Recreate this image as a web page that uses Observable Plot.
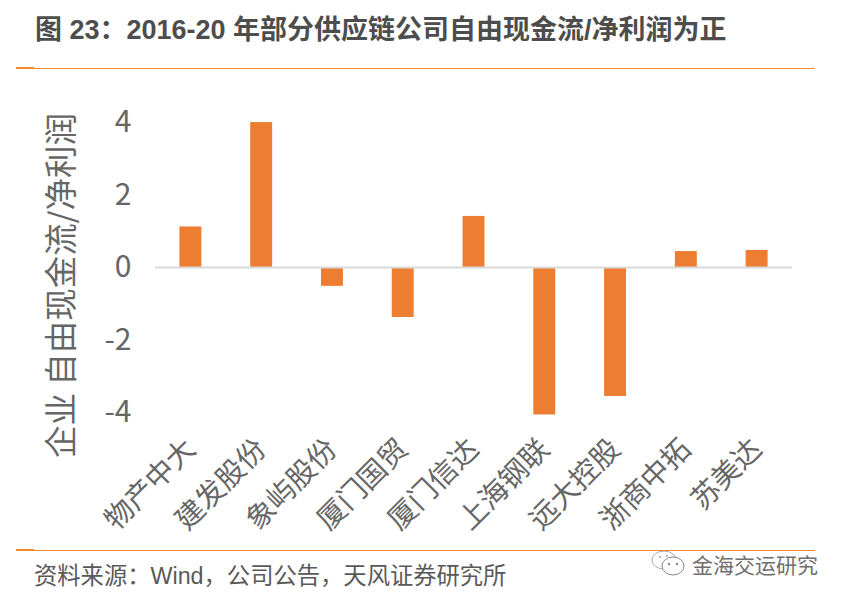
<!DOCTYPE html>
<html lang="zh">
<head>
<meta charset="utf-8">
<script src="https://cdn.jsdelivr.net/npm/d3@7"></script>
<script src="https://cdn.jsdelivr.net/npm/@observablehq/plot@0.6"></script>
<style>
html,body{margin:0;padding:0;background:#fff;width:845px;height:602px;overflow:hidden}
body{position:relative;font-family:"Liberation Sans","Noto Sans CJK SC",sans-serif}
#chart{position:absolute;left:0;top:0}
.t{position:absolute;white-space:nowrap}
.rule{position:absolute;background:#f08a2c}
</style>
</head>
<body>
<div id="chart"></div>
<div class="t" style="left:35px;top:8px;font-size:27px;font-weight:700;color:#4d4d4d">图 23：2016-20 年部分供应链公司自由现金流/净利润为正</div>
<div class="rule" style="left:16px;top:67px;width:18px;height:2px"></div>
<div class="rule" style="left:34px;top:67.5px;width:781px;height:1px"></div>
<div class="rule" style="left:16px;top:549px;width:18px;height:2px"></div>
<div class="rule" style="left:34px;top:550px;width:781px;height:1px"></div>
<div class="t" style="left:34px;top:557px;font-size:23.3px;color:#595959">资料来源：Wind，公司公告，天风证券研究所</div>
<svg class="t" style="left:650px;top:549px" width="40" height="30" viewBox="0 0 40 30"><ellipse cx="14" cy="11" rx="12" ry="9" fill="#fff" stroke="#aaa" stroke-width="1"/><ellipse cx="23" cy="17" rx="11" ry="9" fill="#fff" stroke="#888" stroke-width="1"/><circle cx="19" cy="15" r="1.2" fill="#888"/><circle cx="27" cy="15" r="1.2" fill="#888"/><circle cx="10" cy="8" r="1.1" fill="#aaa"/><circle cx="17" cy="7" r="1.1" fill="#aaa"/></svg>
<div class="t" style="left:692px;top:549px;font-size:21px;color:#6e6e6e">金海交运研究</div>
<script>
const companies = ["物产中大","建发股份","象屿股份","厦门国贸","厦门信达","上海钢联","远大控股","浙商中拓","苏美达"];
const ratios = [1.12,4.0,-0.52,-1.38,1.41,-4.07,-3.56,0.44,0.47];
const yTicks = [-4,-2,0,2,4];
const yLabel = "企业 自由现金流/净利润";
const rows = companies.map((c,i)=>({c,v:ratios[i]}));
const font = '"Noto Sans CJK SC","Liberation Sans",sans-serif';

const plot = Plot.plot({
  width:845,height:602,
  marginLeft:155,marginRight:53,marginTop:104,marginBottom:172,
  style:{background:"transparent",fontFamily:font},
  x:{domain:companies,paddingInner:0.69,paddingOuter:0.345,align:0.5,round:false,label:null},
  y:{domain:[-4.5,4.5],label:null},
  marks:[
    Plot.barY(rows,{x:"c",y:"v",fill:"#ed7d31"}),
    Plot.ruleY([0],{stroke:"#d9d9d9",strokeWidth:2}),
    Plot.axisY({ticks:yTicks,tickSize:0,tickPadding:0,dx:-24,fontSize:30,color:"#666",tickFormat:d=>String(d),label:null}),
    Plot.text([yLabel],{frameAnchor:"left",textAnchor:"middle",rotate:-90,dx:-93,dy:18,fontSize:32.5,fill:"#666",text:d=>d}),
    Plot.axisX({tickSize:0,tickRotate:-45,fontSize:28.5,color:"#666",tickPadding:0,lineAnchor:"top",textAnchor:"end",dy:6,dx:-8,label:null})
  ]
});
document.getElementById("chart").appendChild(plot);
</script>
</body>
</html>
